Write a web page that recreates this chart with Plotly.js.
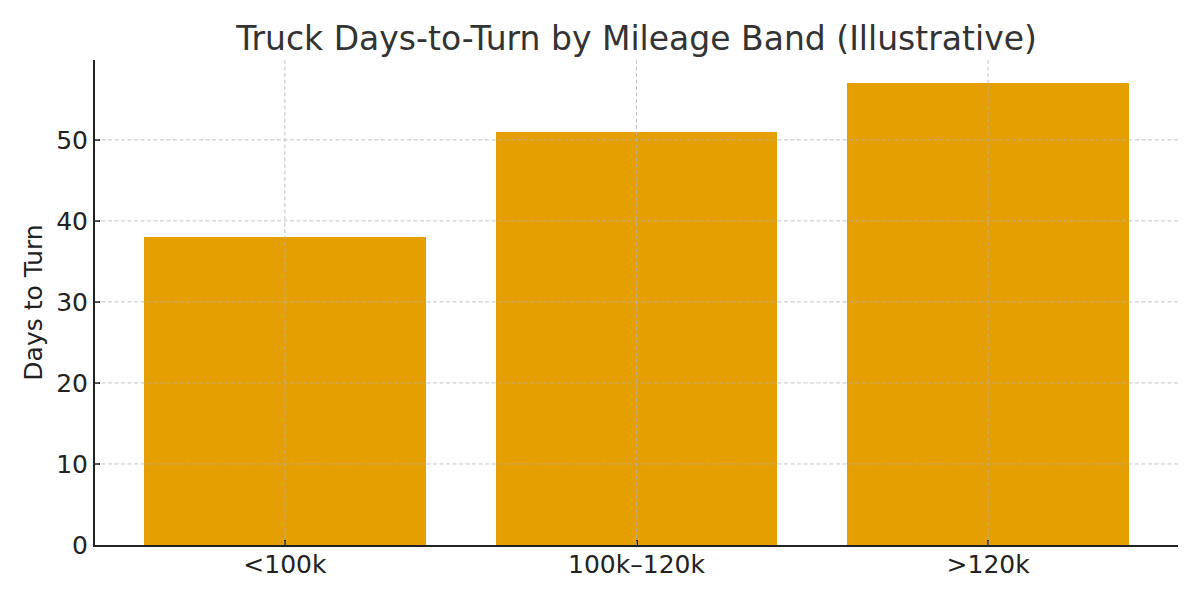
<!DOCTYPE html>
<html>
<head>
<meta charset="utf-8">
<script src="https://cdn.plot.ly/plotly-3.0.1.min.js"></script>
<style>html,body{margin:0;padding:0;background:#fff;}#chart{width:1200px;height:600px;}</style>
</head>
<body>
<div id="chart"></div>
<script>
const categories = ["<100k", "100k–120k", ">120k"];
const daysToTurn = [38, 51, 57];
const yTickVals = [0, 10, 20, 30, 40, 50];
const titleText = "Truck Days-to-Turn by Mileage Band (Illustrative)";
const yTitle = "Days to Turn";

const barWidth = 0.8;
const yMax = Math.max(...daysToTurn) * 1.05;
const xPad = (categories.length - 1 + barWidth) * 0.05;
const xRange = [-barWidth / 2 - xPad, categories.length - 1 + barWidth / 2 + xPad];

const gridLine = {color: "rgba(176,176,176,0.75)", width: 1, dash: "4px,2.5px"};
const shapes = [];
yTickVals.filter(v => v > 0).forEach(v => shapes.push({
  type: "line", layer: "above", xref: "paper", yref: "y", x0: 0, x1: 1, y0: v, y1: v, line: gridLine
}));
categories.forEach((c, i) => shapes.push({
  type: "line", layer: "above", xref: "x", yref: "paper", x0: i, x1: i, y0: 0, y1: 1, line: gridLine
}));

const trace = {
  type: "bar",
  x: categories.map((c, i) => i),
  y: daysToTurn,
  width: barWidth,
  marker: {color: "#E69F00", line: {width: 0}},
  hoverinfo: "skip"
};

const layout = {
  width: 1200, height: 600,
  margin: {l: 95, r: 22, t: 60, b: 55},
  paper_bgcolor: "#fff", plot_bgcolor: "#fff",
  font: {family: "DejaVu Sans, sans-serif", color: "#222", size: 25},
  title: {text: titleText, font: {size: 33, color: "#333"}, x: 0.5, xref: "paper", xanchor: "center", y: 0.956, yref: "container", yanchor: "top"},
  showlegend: false,
  bargap: 0,
  xaxis: {
    range: xRange, tickmode: "array", tickvals: categories.map((c, i) => i), ticktext: categories,
    showgrid: false, zeroline: false, showline: true, linecolor: "#222", linewidth: 2,
    ticks: "inside", ticklen: 5, tickwidth: 2, tickcolor: "#222", ticklabelstandoff: -4,
    tickfont: {size: 25, color: "#222"}, fixedrange: true
  },
  yaxis: {
    range: [0, yMax], tickmode: "array", tickvals: yTickVals,
    showgrid: false, zeroline: false, showline: true, linecolor: "#222", linewidth: 2,
    ticks: "inside", ticklen: 5, tickwidth: 2, tickcolor: "#222",
    tickfont: {size: 25, color: "#222"},
    title: {text: yTitle, font: {size: 25, color: "#222"}, standoff: 6}, fixedrange: true
  },
  shapes: shapes
};

Plotly.newPlot("chart", [trace], layout, {displayModeBar: false, staticPlot: true});
</script>
</body>
</html>
